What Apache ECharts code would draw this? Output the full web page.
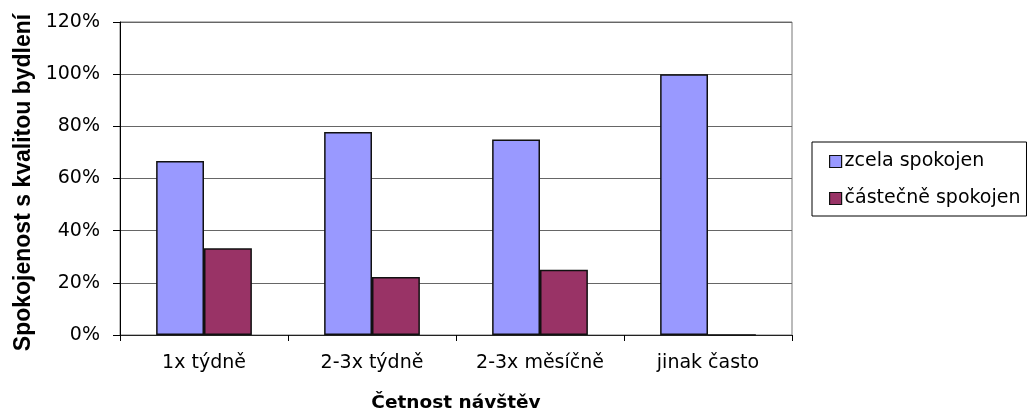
<!DOCTYPE html>
<html>
<head>
<meta charset="utf-8">
<script src="https://cdn.jsdelivr.net/npm/echarts@6/dist/echarts.min.js"></script>
<style>
  html, body { margin: 0; padding: 0; background: #fff; }
  #chart { width: 1028px; height: 416px; }
</style>
</head>
<body>
<div id="chart"></div>
<script>
// Frequency of visits (categories) and satisfaction shares in percent
const categories = ['1x týdně', '2-3x týdně', '2-3x měsíčně', 'jinak často'];
const zcelaSpokojen = [66.7, 77.8, 75, 100];
const castecneSpokojen = [33.3, 22.2, 25, 0];
const yTicks = { min: 0, max: 120, interval: 20 };

const labelFont = 'DejaVu Sans';

const chart = echarts.init(document.getElementById('chart'), null, { renderer: 'canvas' });

chart.setOption({
  animation: false,
  backgroundColor: '#ffffff',
  grid: {
    left: 120,
    right: 236,
    top: 22,
    bottom: 81,
    outerBoundsMode: 'none',
    containLabel: false,
    show: true,
    borderColor: '#777',
    borderWidth: 1,
    backgroundColor: 'transparent'
  },
  legend: {
    orient: 'vertical',
    left: 812,
    top: 142,
    width: 215,
    padding: [10, 6, 8, 17],
    itemGap: 18,
    itemWidth: 12,
    itemHeight: 12,
    icon: 'rect',
    borderColor: '#000',
    borderWidth: 1,
    itemStyle: { borderColor: '#111', borderWidth: 1.2 },
    textStyle: { fontFamily: labelFont, fontSize: 19, color: '#000', padding: [0, 0, 0, -2] },
    data: ['zcela spokojen', 'částečně spokojen']
  },
  xAxis: {
    type: 'category',
    data: categories,
    name: 'Četnost návštěv',
    nameLocation: 'middle',
    nameGap: 59,
    nameTextStyle: { fontFamily: labelFont, fontWeight: 'bold', fontSize: 18.5, color: '#000' },
    axisLine: { lineStyle: { color: '#222', width: 1 } },
    axisTick: { show: true, length: 6, alignWithLabel: false, lineStyle: { color: '#000' } },
    axisLabel: { fontFamily: labelFont, fontSize: 19, color: '#000', margin: 19 }
  },
  yAxis: {
    type: 'value',
    min: yTicks.min,
    max: yTicks.max,
    interval: yTicks.interval,
    name: 'Spokojenost s kvalitou bydlení',
    nameLocation: 'middle',
    nameGap: 84,
    nameTextStyle: { fontFamily: 'Liberation Sans', fontWeight: 'bold', fontSize: 23, color: '#000', padding: [0, 8, 0, 0] },
    axisLine: { show: true, lineStyle: { color: '#000', width: 1 } },
    axisTick: { show: true, length: 7, lineStyle: { color: '#000' } },
    axisLabel: { fontFamily: labelFont, fontSize: 19, color: '#000', margin: 20, formatter: '{value}%' },
    splitLine: { show: true, lineStyle: { color: '#666', width: 1 } }
  },
  series: [
    {
      name: 'zcela spokojen',
      type: 'bar',
      data: zcelaSpokojen,
      barGap: '0%',
      barCategoryGap: '43%',
      itemStyle: { color: '#9999FF', borderColor: '#111', borderWidth: 1.5 }
    },
    {
      name: 'částečně spokojen',
      type: 'bar',
      data: castecneSpokojen,
      barGap: '0%',
      barCategoryGap: '43%',
      itemStyle: { color: '#993366', borderColor: '#111', borderWidth: 1.5 }
    }
  ]
});
</script>
</body>
</html>
